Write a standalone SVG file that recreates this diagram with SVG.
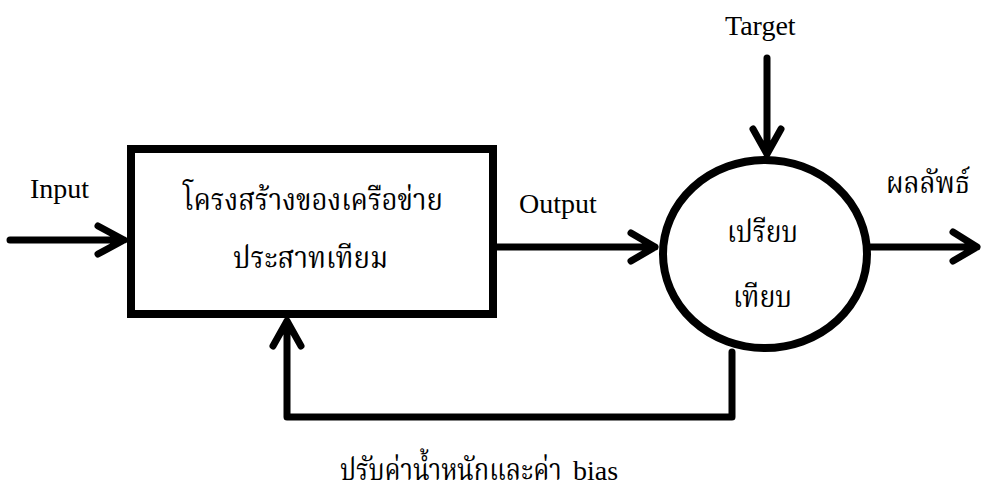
<svg xmlns="http://www.w3.org/2000/svg" width="981" height="487" viewBox="0 0 981 487">
<style>
.ln{fill:none;stroke:#000;stroke-width:7;stroke-linecap:round;stroke-linejoin:round}
.sh{fill:none;stroke:#000;stroke-width:8}
.t{font-family:"Liberation Serif","Times New Roman",serif;font-size:28px;fill:#000}
.th{font-family:"Liberation Serif","Noto Serif Thai","Noto Sans Thai",serif;font-size:30px;fill:#000}
</style>
<rect width="981" height="487" fill="#fff"/>
<g id="box">
<rect class="sh" x="131" y="149" width="362" height="165"/>
<text class="th" x="183" y="210" textLength="260" lengthAdjust="spacingAndGlyphs">โครงสร้างของเครือข่าย</text>
<text class="th" x="233" y="268" textLength="155" lengthAdjust="spacingAndGlyphs">ประสาทเทียม</text>
</g>
<g id="compare">
<ellipse class="sh" cx="765" cy="254" rx="102" ry="94" stroke-width="7"/>
<text class="th" x="727" y="242" textLength="71" lengthAdjust="spacingAndGlyphs">เปรียบ</text>
<text class="th" x="733" y="307" textLength="59" lengthAdjust="spacingAndGlyphs">เทียบ</text>
</g>
<g id="labels">
<text class="t" x="30" y="198">Input</text>
<text class="t" x="725" y="35">Target</text>
<text class="t" x="519" y="213">Output</text>
<text class="th" x="886" y="193" font-size="27" textLength="84" lengthAdjust="spacingAndGlyphs">ผลลัพธ์</text>
<text class="th" transform="matrix(0.845 0 0 1 340 480)" font-size="28">ปรับค่าน้ำหนักและค่า</text>
<text x="573" y="480" style="font-family:'Liberation Serif',serif;font-size:28px">bias</text>
</g>
<g id="connectors">
<path class="ln" d="M10 240H124M98 226L124 240L98 254"/>
<path class="ln" d="M497 247H655M631 233L655 247L631 261"/>
<path class="ln" d="M767 58V154M753 129L767 154L781 129"/>
<path class="ln" d="M871 247H977M953 232L977 247L953 261"/>
<path class="ln" d="M732 352V417H287V321M273 346L287 321L301 346" stroke-linecap="butt"/>
</g>
</svg>
